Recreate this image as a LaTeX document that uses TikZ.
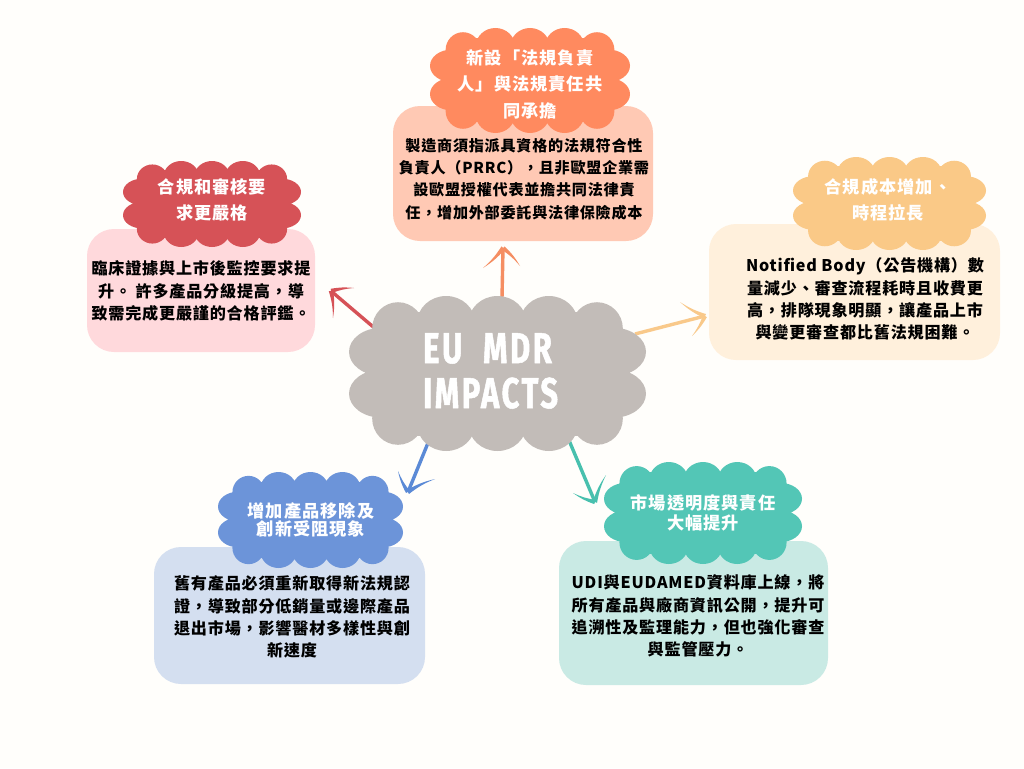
\documentclass[tikz,border=0pt]{standalone}
\usepackage{fontspec}
\usetikzlibrary{calc}
\newfontfamily\cjkbody[LetterSpace=5]{Noto Sans CJK TC}
\newfontfamily\cjkhead[LetterSpace=6]{Noto Sans CJK TC}
\newfontfamily\hubfont[FakeStretch=0.72,LetterSpace=6,FakeBold=1.2]{Fira Sans}
\definecolor{pagebg}{HTML}{FFFEFB}
\definecolor{hubc}{HTML}{C2BCB8}
\definecolor{oc}{HTML}{FF8A5F}\definecolor{ob}{HTML}{FFC9B4}\definecolor{oa}{HTML}{F58E62}
\definecolor{rc}{HTML}{D65257}\definecolor{rb}{HTML}{FFD9DC}\definecolor{ra}{HTML}{D65257}
\definecolor{yc}{HTML}{FAC987}\definecolor{yb}{HTML}{FFF0DC}\definecolor{ya}{HTML}{F9C98A}
\definecolor{bc}{HTML}{6C94D9}\definecolor{bb}{HTML}{D4DFF0}\definecolor{ba}{HTML}{5B8AD6}
\definecolor{tc}{HTML}{53C6B6}\definecolor{tb}{HTML}{C9EAE4}\definecolor{ta}{HTML}{48C0AE}
\tikzset{
  panel/.style={rounded corners=27pt,inner sep=0pt,outer sep=0pt,draw=none},
  bodytext/.style={font=\cjkbody\bfseries\fontsize{#1}{22.2}\selectfont,text=black,align=center,inner sep=0pt},
  bodytext/.default=16.1,
  headtext/.style={font=\cjkhead\bfseries\fontsize{17.2}{#1}\selectfont,text=white,align=center,inner sep=0pt},
  hubtext/.style={font=\hubfont\bfseries\fontsize{43}{45}\selectfont,text=white,align=left,inner sep=0pt},
}
% name colour x0 y0 x1 y1
\newcommand{\cloudshape}[6]{%
  \begin{scope}[shift={(#3,#4)},xscale={(#5-#3)/100},yscale={(#6-#4)/100}]
    \fill[#2] (12,10) rectangle (88,90);
    \fill[#2]
      (16.5,21) ellipse [x radius=8.7,y radius=17]
      (32.7,17.5) ellipse [x radius=9.8,y radius=17.5]
      (50,17.5) ellipse [x radius=9.8,y radius=17.5]
      (67.3,17.5) ellipse [x radius=9.8,y radius=17.5]
      (83.5,21) ellipse [x radius=8.7,y radius=17]
      (16.5,79) ellipse [x radius=8.7,y radius=17]
      (32.7,82.5) ellipse [x radius=9.8,y radius=17.5]
      (50,82.5) ellipse [x radius=9.8,y radius=17.5]
      (67.3,82.5) ellipse [x radius=9.8,y radius=17.5]
      (83.5,79) ellipse [x radius=8.7,y radius=17]
      (11,36) ellipse [x radius=11,y radius=15.5]
      (11,63) ellipse [x radius=11,y radius=15.5]
      (89,36) ellipse [x radius=11,y radius=15.5]
      (89,63) ellipse [x radius=11,y radius=15.5];
  \end{scope}}
\newcommand{\panelbox}[6]{%
  \node[panel,fill=#2,minimum width={(#5-#3)*1pt},minimum height={(#6-#4)*1pt}] (#1) at ({(#3+#5)/2},{(#4+#6)/2}) {};}
% colour start tip barb1 barb2
\newcommand{\handarrow}[5]{%
  \draw[#1,line width=3.4pt] (#2) -- (#3);
  \fill[#1] ($(#3)!2.2pt!90:(#4)$) to[bend left=8] (#4) to[bend right=8] ($(#3)!2.2pt!-90:(#4)$) -- cycle;
  \fill[#1] ($(#3)!2.2pt!90:(#5)$) to[bend left=8] (#5) to[bend right=8] ($(#3)!2.2pt!-90:(#5)$) -- cycle;}
\begin{document}
\begin{tikzpicture}[x=1pt,y=-1pt]
\useasboundingbox (0,0) rectangle (1024,768);
\fill[pagebg] (0,0) rectangle (1024,768);

\coordinate (os) at (502,298); \coordinate (ot) at (503,248); \coordinate (o1) at (483,268); \coordinate (o2) at (520,266);
\coordinate (rs) at (378,331); \coordinate (rt) at (331,291); \coordinate (r1) at (354,288); \coordinate (r2) at (333,318);
\coordinate (ys) at (635,334); \coordinate (yt) at (705,316); \coordinate (y1) at (680,302); \coordinate (y2) at (692,336);
\coordinate (bs) at (430,438); \coordinate (bt) at (408,492); \coordinate (b1) at (398,471); \coordinate (b2) at (435,479);
\coordinate (ts) at (568,438); \coordinate (tt) at (595,502); \coordinate (t1) at (573,493); \coordinate (t2) at (606,475);

\handarrow{oa}{os}{ot}{o1}{o2}
\handarrow{ra}{rs}{rt}{r1}{r2}
\handarrow{ya}{ys}{yt}{y1}{y2}
\handarrow{ba}{bs}{bt}{b1}{b2}
\handarrow{ta}{ts}{tt}{t1}{t2}

\cloudshape{hubcloud}{hubc}{349}{296}{646}{451}
\node[hubtext,anchor=west] (hub) at (423,371) {EU\hspace{11pt} MDR\\IMPACTS};

\panelbox{opanel}{ob}{393}{106}{653}{241}
\cloudshape{ocloud}{oc}{430}{28}{630}{133}
\node[headtext=26.5] (ohead) at (530,84) {新設「法規負責\\人」與法規責任共\\同承擔};
\node[bodytext=15.1] (obody) at (524,179) {製造商須指派具資格的法規符合性\\負責人（PRRC），且非歐盟企業需\\設歐盟授權代表並擔共同法律責\\任，增加外部委託與法律保險成本};

\panelbox{rpanel}{rb}{87}{229}{315}{352}
\cloudshape{rcloud}{rc}{123}{161}{301}{247}
\node[headtext=26] (rhead) at (212,200) {合規和審核要\\求更嚴格};
\node[bodytext] (rbody) at (201,291) {臨床證據與上市後監控要求提\\升。 許多產品分級提高，導\\致需完成更嚴謹的合格評鑑。};

\panelbox{ypanel}{yb}{709}{224}{1000}{360}
\cloudshape{ycloud}{yc}{793}{157}{986}{250}
\node[headtext=26] (yhead) at (888,200) {合規成本增加、\\時程拉長};
\node[bodytext] (ybody) at (865,299) {Notified Body（公告機構）數\\量減少、審查流程耗時且收費更\\高，排隊現象明顯，讓產品上市\\與變更審查都比舊法規困難。};

\panelbox{bpanel}{bb}{154}{547}{425}{684}
\cloudshape{bcloud}{bc}{218}{472}{403}{568}
\node[headtext=18.5] (bhead) at (311,520) {增加產品移除及\\創新受阻現象};
\node[bodytext] (bbody) at (292,617) {舊有產品必須重新取得新法規認\\證，導致部分低銷量或邊際產品\\退出市場，影響醫材多樣性與創\\新速度};

\panelbox{tpanel}{tb}{559}{541}{828}{685}
\cloudshape{tcloud}{tc}{604}{462}{802}{564}
\node[headtext=20] (thead) at (703,513) {市場透明度與責任\\大幅提升};
\node[bodytext] (tbody) at (698,616) {UDI與EUDAMED資料庫上線，將\\所有產品與廠商資訊公開，提升可\\追溯性及監理能力，但也強化審查\\與監管壓力。};
\end{tikzpicture}
\end{document}
